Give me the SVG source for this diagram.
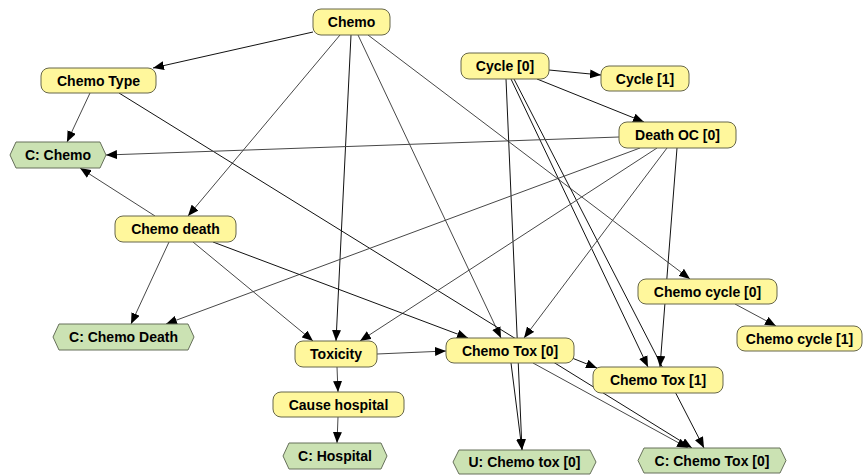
<svg xmlns="http://www.w3.org/2000/svg" width="864" height="475" viewBox="0 0 864 475">
  <style>
    .bg { fill: #ffffff; }
    .node rect { fill: #fff79c; stroke: #66664a; stroke-width: 1; }
    .util polygon { fill: #cbe2b3; stroke: #66705a; stroke-width: 1; }
    .node text, .util text {
      font-family: "Liberation Sans", Arial, sans-serif;
      font-size: 14px; font-weight: bold; fill: #000000; text-anchor: middle;
    }
    .edges line { stroke-width: 1; marker-end: url(#arrow); }
    .dk { stroke: #111111; }
    .md { stroke: #474747; }
  </style>
  <defs>
    <marker id="arrow" markerUnits="userSpaceOnUse" markerWidth="11" markerHeight="9" refX="11" refY="4.5" orient="auto">
      <path d="M0,0 L11,4.5 L0,9 z" fill="#000000"/>
    </marker>
  </defs>

  <rect class="bg" x="0" y="0" width="864" height="475"/>

  <!-- connectors -->
  <g id="edges" class="edges">
    <line class="dk" x1="313" y1="32" x2="153" y2="68"/>
    <line class="md" x1="340" y1="35" x2="188" y2="216"/>
    <line class="dk" x1="351" y1="35" x2="336" y2="341"/>
    <line class="md" x1="358" y1="35" x2="501" y2="338"/>
    <line class="md" x1="368" y1="35" x2="690" y2="279"/>
    <line class="md" x1="90" y1="93" x2="67" y2="142"/>
    <line class="dk" x1="119" y1="93" x2="692" y2="448"/>
    <line class="dk" x1="549" y1="70" x2="601" y2="75"/>
    <line class="dk" x1="537" y1="79" x2="644" y2="122"/>
    <line class="dk" x1="506" y1="79" x2="522" y2="450"/>
    <line class="dk" x1="511" y1="79" x2="648" y2="367"/>
    <line class="dk" x1="514" y1="79" x2="704" y2="448"/>
    <line class="md" x1="619" y1="137" x2="106" y2="155"/>
    <line class="md" x1="640" y1="148" x2="166" y2="324"/>
    <line class="md" x1="657" y1="148" x2="360" y2="341"/>
    <line class="md" x1="667" y1="148" x2="524" y2="338"/>
    <line class="dk" x1="677" y1="148" x2="660" y2="367"/>
    <line class="md" x1="155" y1="216" x2="80" y2="168"/>
    <line class="md" x1="169" y1="242" x2="131" y2="324"/>
    <line class="md" x1="193" y1="242" x2="313" y2="341"/>
    <line class="dk" x1="213" y1="242" x2="468" y2="338"/>
    <line class="md" x1="377" y1="354" x2="446" y2="351"/>
    <line class="md" x1="337" y1="367" x2="338" y2="392"/>
    <line class="md" x1="338" y1="417" x2="337" y2="443"/>
    <line class="dk" x1="572" y1="358" x2="597" y2="368"/>
    <line class="dk" x1="511" y1="363" x2="522" y2="450"/>
    <line class="md" x1="533" y1="363" x2="688" y2="448"/>
    <line class="md" x1="735" y1="304" x2="776" y2="326"/>
  </g>

  <!-- chance / decision nodes -->
  <g id="chemo" class="node"><rect x="313" y="9" width="77" height="26" rx="8"/><text x="351.5" y="27">Chemo</text></g>
  <g id="chemo-type" class="node"><rect x="41" y="68" width="115" height="25" rx="8"/><text x="98.5" y="85.5">Chemo Type</text></g>
  <g id="cycle-0" class="node"><rect x="461" y="53" width="88" height="26" rx="8"/><text x="505" y="71">Cycle [0]</text></g>
  <g id="cycle-1" class="node"><rect x="601" y="66" width="88" height="25" rx="8"/><text x="645" y="83.5">Cycle [1]</text></g>
  <g id="death-oc-0" class="node"><rect x="619" y="122" width="117" height="26" rx="8"/><text x="677.5" y="140">Death OC [0]</text></g>
  <g id="chemo-death" class="node"><rect x="115" y="216" width="121" height="26" rx="8"/><text x="175.5" y="234">Chemo death</text></g>
  <g id="toxicity" class="node"><rect x="295" y="341" width="82" height="26" rx="8"/><text x="336" y="359">Toxicity</text></g>
  <g id="chemo-tox-0" class="node"><rect x="446" y="338" width="128" height="25" rx="8"/><text x="510" y="355.5">Chemo Tox [0]</text></g>
  <g id="cause-hospital" class="node"><rect x="273" y="392" width="131" height="25" rx="8"/><text x="338.5" y="409.5">Cause hospital</text></g>
  <g id="chemo-cycle-0" class="node"><rect x="638" y="279" width="139" height="25" rx="8"/><text x="707.5" y="296.5">Chemo cycle [0]</text></g>
  <g id="chemo-cycle-1" class="node"><rect x="737" y="326" width="125" height="25" rx="8"/><text x="799.5" y="343.5">Chemo cycle [1]</text></g>
  <g id="chemo-tox-1" class="node"><rect x="593" y="367" width="130" height="26" rx="8"/><text x="658" y="385">Chemo Tox [1]</text></g>

  <!-- utility nodes -->
  <g id="c-chemo" class="util"><polygon points="10,155 16,142 100,142 106,155 100,168 16,168"/><text x="58" y="160">C: Chemo</text></g>
  <g id="c-chemo-death" class="util"><polygon points="53,337 59,324 188,324 194,337 188,350 59,350"/><text x="123.5" y="342">C: Chemo Death</text></g>
  <g id="c-hospital" class="util"><polygon points="283,456 289,443 381,443 387,456 381,469 289,469"/><text x="335" y="461">C: Hospital</text></g>
  <g id="u-chemo-tox-0" class="util"><polygon points="453,462 459,450 590,450 596,462 590,474 459,474"/><text x="524.5" y="467">U: Chemo tox [0]</text></g>
  <g id="c-chemo-tox-0" class="util"><polygon points="638,460.5 644,448 780,448 786,460.5 780,473 644,473"/><text x="712" y="465.5">C: Chemo Tox [0]</text></g>
</svg>
